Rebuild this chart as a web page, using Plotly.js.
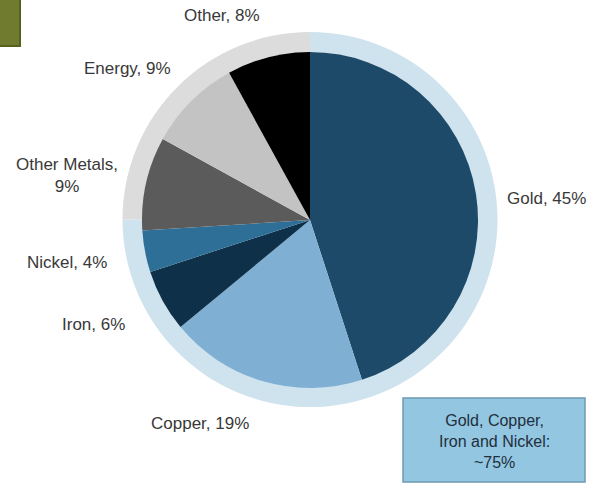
<!DOCTYPE html>
<html>
<head>
<meta charset="utf-8">
<script src="https://cdn.plot.ly/plotly-3.0.1.min.js"></script>
<style>html,body{margin:0;padding:0;background:#fff;}#chart{width:595px;height:485px;}</style>
</head>
<body>
<div id="chart"></div>
<script>
// Data
const categories = ["Gold", "Copper", "Iron", "Nickel", "Other Metals", "Energy", "Other"];
const shares = [45, 19, 6, 4, 9, 9, 8];
const sliceColors = ["#1d4a68", "#7fb0d3", "#0e3149", "#2e6f97", "#5b5b5b", "#c3c3c3", "#000000"];
const groupLabels = ["Gold, Copper, Iron and Nickel", "Rest"];
const groupShares = [75, 25];
const groupColors = ["#cfe3ef", "#dcdcdc"];
const calloutText = "Gold, Copper,<br>Iron and Nickel:<br>~75%";

// label anchor positions (pixels) for each category
const labelPos = [[546, 198], [200, 423], [93, 324], [67, 262], [67, 175], [127, 69], [222, 16]];

const W = 595, H = 485;
const px = x => x / W;
const py = y => 1 - y / H;

const ring = {
  type: "pie",
  values: groupShares,
  labels: groupLabels,
  sort: false,
  direction: "clockwise",
  rotation: 0,
  hole: 0.893,
  textinfo: "none",
  hoverinfo: "none",
  marker: {colors: groupColors, line: {width: 0}},
  domain: {x: [px(122), px(498)], y: [py(407), py(32)]},
  showlegend: false
};

const inner = {
  type: "pie",
  values: shares,
  labels: categories,
  sort: false,
  direction: "clockwise",
  rotation: 0,
  textinfo: "none",
  hoverinfo: "label+percent",
  marker: {colors: sliceColors, line: {width: 0}},
  domain: {x: [px(142), px(478)], y: [py(388), py(52)]},
  showlegend: false
};

const annotations = categories.map((c, i) => {
  const txt = c === "Other Metals" ? c + ",<br>" + shares[i] + "%" : c + ", " + shares[i] + "%";
  return {
    text: txt,
    x: px(labelPos[i][0]), y: py(labelPos[i][1]),
    xref: "paper", yref: "paper",
    xanchor: "center", yanchor: "middle",
    showarrow: false,
    font: {family: "Liberation Sans, Arial, sans-serif", size: 17, color: "#383838"}
  };
});

annotations.push({
  text: calloutText,
  x: px(494), y: py(441),
  xref: "paper", yref: "paper",
  xanchor: "center", yanchor: "middle",
  showarrow: false,
  align: "center",
  font: {family: "Liberation Sans, Arial, sans-serif", size: 16, color: "#1f2f3d"}
});

const layout = {
  width: W, height: H,
  margin: {l: 0, r: 0, t: 0, b: 0},
  paper_bgcolor: "#ffffff",
  plot_bgcolor: "#ffffff",
  showlegend: false,
  annotations: annotations,
  shapes: [
    {type: "rect", xref: "paper", yref: "paper", x0: px(-5), x1: px(20), y0: py(46), y1: py(-5),
     fillcolor: "#707b30", line: {color: "#56601f", width: 2}},
    {type: "rect", xref: "paper", yref: "paper", x0: px(403), x1: px(585), y0: py(482), y1: py(398),
     fillcolor: "#93c6e0", line: {color: "#6f9bb3", width: 1.5}}
  ]
};

Plotly.newPlot("chart", [ring, inner], layout, {displayModeBar: false, staticPlot: true});
</script>
</body>
</html>
